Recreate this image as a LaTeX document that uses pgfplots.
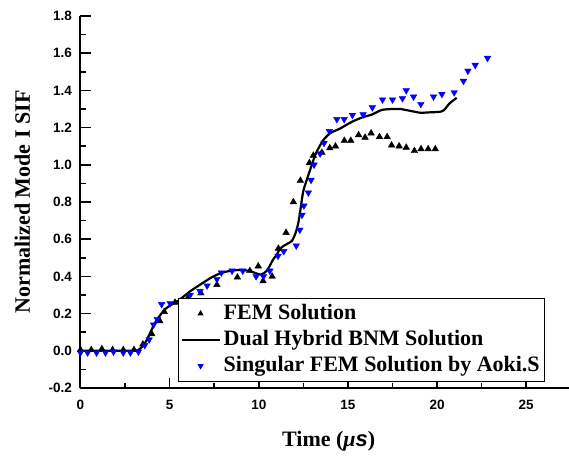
\documentclass[border=0pt]{standalone}
\usepackage{fontspec}
\setmainfont{Liberation Serif}
\setsansfont{Liberation Sans}
\usepackage{pgfplots}
\pgfplotsset{compat=1.18}
\begin{document}
\begin{tikzpicture}
\begin{axis}[
  scale only axis, width=488.5pt, height=372pt,
  xmin=0, xmax=27.4, ymin=-0.2, ymax=1.8,
  axis lines=left, axis line style={-, line width=2pt},
  xtick={0,5,10,15,20,25},
  ytick={-0.2,0,0.2,0.4,0.6,0.8,1.0,1.2,1.4,1.6,1.8},
  minor x tick num=1, minor y tick num=1,
  tick align=inside, major tick length=10pt, minor tick length=5pt,
  tick style={line width=1.5pt, black},
  /pgf/number format/assume math mode=true,
  y tick label style={/pgf/number format/.cd, fixed, fixed zerofill, precision=1, /tikz/.cd, xshift=-5pt},
  x tick label style={yshift=-9pt},
  ticklabel style={font=\fontsize{13.5}{16}\selectfont\sffamily\bfseries},
  xlabel={Time (\textit{μ}\textsf{\itshape s})},
  ylabel={Normalized Mode I SIF},
  label style={font=\fontsize{22}{26}\selectfont\bfseries},
  x label style={at={(axis description cs:0.508,-0.1586)}, anchor=base},
  y label style={at={(axis description cs:-0.119,0.5)}, anchor=center},
  legend cell align=left,
  legend style={at={(0.1996,0.2419)}, anchor=north west, draw=black, line width=1pt,
    font=\fontsize{22}{26}\selectfont\bfseries, inner sep=2pt, row sep=0pt,
    nodes={inner sep=3pt, text height=15.5pt, text depth=4.7pt}},
  legend image code/.code={\draw[mark repeat=2,mark phase=2,#1] plot coordinates {(0pt,0pt) (19pt,0pt) (38pt,0pt)};},
  legend image post style={mark size=2.6pt},
]
\coordinate (bl) at (rel axis cs:0,0);
\coordinate (tr) at (rel axis cs:1,1);
\addplot[only marks, mark=triangle*, mark size=3.8pt, black] coordinates {
(0,0.005) (0.6,0.005) (1.2,0.01) (1.8,0.005) (2.4,0.005) (3.0,0.005)
(3.5,0.035) (4.0,0.09) (4.45,0.16) (4.7,0.21) (5.3,0.26) (6.0,0.28)
(6.75,0.31) (7.65,0.355) (8.8,0.395) (9.5,0.43) (9.97,0.455) (10.24,0.375)
(10.75,0.40) (11.1,0.55) (11.53,0.635) (11.94,0.80) (12.33,0.915) (12.84,1.01)
(13.06,1.05) (13.54,1.066) (13.98,1.09) (14.3,1.10) (14.8,1.13) (15.16,1.13)
(15.6,1.16) (15.96,1.147) (16.3,1.17) (16.77,1.15) (17.2,1.15) (17.45,1.105)
(17.87,1.10) (18.27,1.093) (18.73,1.075) (19.1,1.085) (19.5,1.085) (19.9,1.085)
};
\addlegendentry{FEM Solution}
\addplot[black, line width=2.2pt, smooth, tension=0.4, mark=none] coordinates {
(0,0) (1,0) (2,0) (3,0) (3.25,0.005) (3.5,0.025) (3.7,0.055) (3.9,0.095)
(4.1,0.135) (4.3,0.17) (4.5,0.195) (4.7,0.22) (4.9,0.235) (5.2,0.255)
(5.5,0.27) (6.15,0.32) (6.7,0.355) (7.27,0.39) (7.8,0.415) (8.4,0.43)
(9.1,0.435) (9.6,0.425) (10.1,0.41) (10.45,0.43) (10.8,0.49) (11.0,0.515)
(11.2,0.55) (11.5,0.57) (11.85,0.59) (12.05,0.63) (12.2,0.68) (12.3,0.735)
(12.5,0.86) (12.8,0.95) (13.2,1.06) (13.6,1.13) (14.0,1.17) (14.56,1.195)
(15.2,1.23) (15.78,1.254) (16.34,1.27) (16.9,1.295) (17.5,1.30) (17.93,1.30)
(18.5,1.29) (19.05,1.28) (19.6,1.282) (20.17,1.285) (20.4,1.295) (20.7,1.33) (21.1,1.36)
};
\addlegendentry{Dual Hybrid BNM Solution}
\addplot[only marks, mark=triangle*, mark size=3.8pt, blue, mark options={rotate=180, fill=blue, draw=blue}] coordinates {
(0,-0.01) (0.4,-0.01) (0.9,-0.01) (1.4,-0.01) (1.85,-0.005) (2.4,-0.01) (2.8,-0.01)
(3.25,-0.005) (3.6,0.03) (3.85,0.06) (4.1,0.14) (4.3,0.17) (4.55,0.25) (5.03,0.255)
(6.15,0.30) (6.7,0.32) (7.1,0.35) (7.65,0.385) (7.9,0.42) (8.5,0.43) (9.1,0.43)
(9.85,0.40) (10.26,0.40) (10.62,0.43) (11.08,0.51) (11.4,0.535) (12.1,0.565)
(12.3,0.65) (12.42,0.73) (12.53,0.78) (12.78,0.85) (12.93,0.918) (13.1,1.0)
(13.44,1.06) (13.66,1.117) (13.96,1.18) (14.38,1.245) (14.79,1.245) (15.25,1.267)
(15.85,1.27) (16.37,1.308) (16.94,1.35) (17.5,1.35) (18.06,1.357) (18.27,1.40)
(18.68,1.366) (19.09,1.326) (19.8,1.366) (20.27,1.38) (20.96,1.389) (21.48,1.45)
(21.73,1.505) (22.14,1.536) (22.83,1.574)
};
\addlegendentry{Singular FEM Solution by Aoki.S}
\end{axis}
\pgfresetboundingbox
\path[use as bounding box] ([shift={(-80.5pt,-68pt)}]bl) rectangle ([shift={(0pt,16pt)}]tr);
\end{tikzpicture}
\end{document}
